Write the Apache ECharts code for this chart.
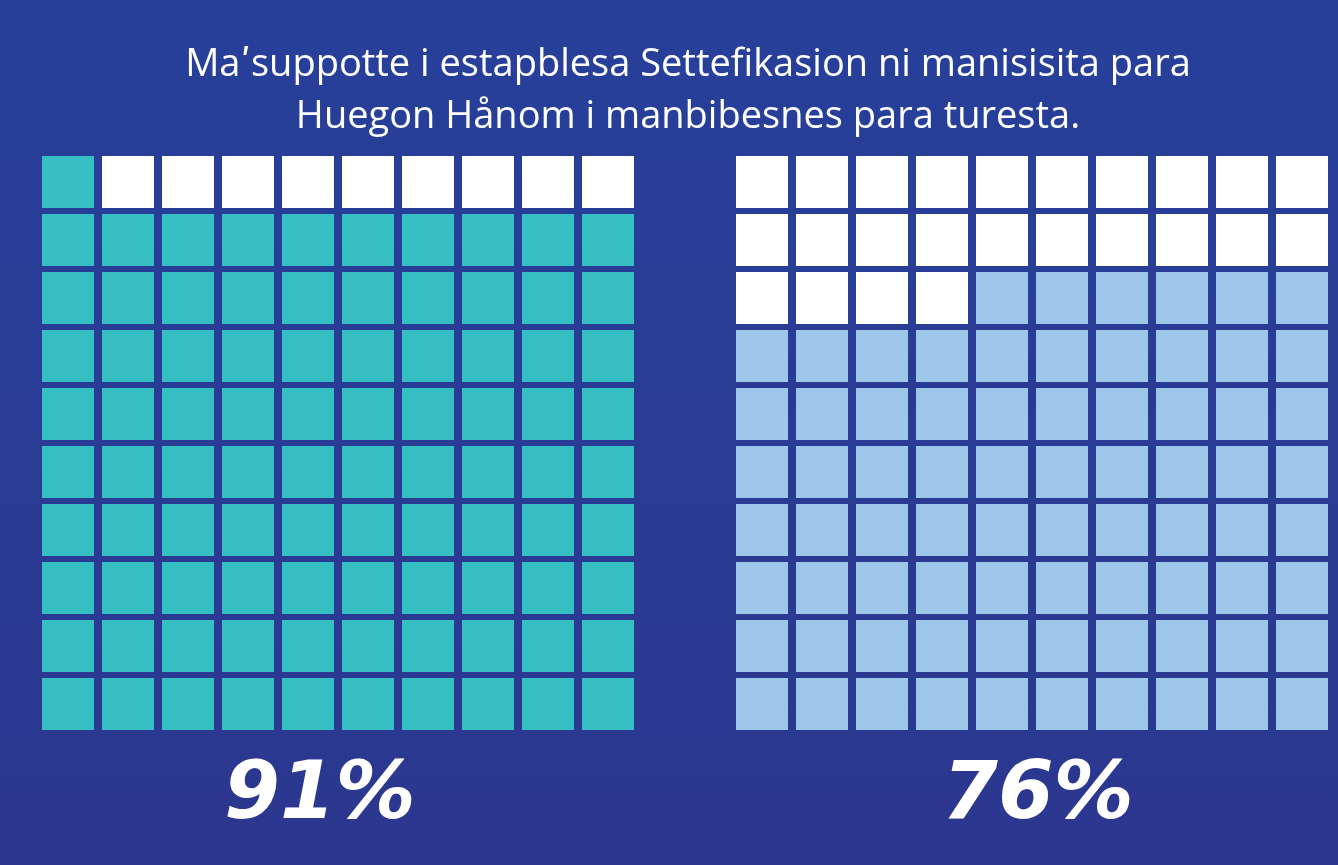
<!DOCTYPE html>
<html>
<head>
<meta charset="utf-8">
<script src="https://cdn.jsdelivr.net/npm/echarts@6/dist/echarts.min.js"></script>
<style>
  html, body { margin: 0; padding: 0; background: #2b3a91; }
  #main { width: 1338px; height: 865px; }
</style>
</head>
<body>
<div id="main"></div>
<script>
// waffle data
var titleLines = ['Maʹsuppotte i estapblesa Settefikasion ni manisisita para', 'Huegon Hånom i manbibesnes para turesta.'];
var percents = [91, 76];
var emptyStart = [1, 0];   // first empty cell (reading order, top-left) of each waffle
var fillColors = ['#35bfc3', '#9dc6e9'];
var cols = ['1', '2', '3', '4', '5', '6', '7', '8', '9', '10'];
var rows = ['1', '2', '3', '4', '5', '6', '7', '8', '9', '10'];

function cells(k, filled) {
  var out = [];
  var nEmpty = 100 - percents[k];
  for (var i = 0; i < 100; i++) {
    var empty = i >= emptyStart[k] && i < emptyStart[k] + nEmpty;
    if (empty === !filled) out.push([i % 10, Math.floor(i / 10)]);
  }
  return out;
}

var Chart = echarts.init(document.getElementById('main'));

var grids = [
  { left: 38, top: 153, width: 600, height: 580 },
  { left: 732, top: 153, width: 600, height: 580 }
];
var labelX = [315, 1033];

var option = {
  backgroundColor: new echarts.graphic.LinearGradient(0, 0, 0, 1, [
    { offset: 0, color: '#27409a' },
    { offset: 1, color: '#2c378f' }
  ]),
  animation: false,
  title: [{
    text: titleLines.join('\n'),
    left: 683,
    top: 34,
    textAlign: 'center',
    textStyle: {
      color: '#ffffff',
      fontFamily: "'Open Sans', 'DejaVu Sans'",
      fontWeight: 'normal',
      fontSize: 38,
      lineHeight: 52
    }
  }].concat(percents.map(function (p, k) {
    return {
      text: p + '%',
      left: labelX[k],
      top: 752,
      textAlign: 'center',
      textStyle: {
        color: '#ffffff',
        fontFamily: 'DejaVu Sans',
        fontWeight: 'bold',
        fontStyle: 'italic',
        fontSize: 80
      }
    };
  })),
  grid: grids,
  xAxis: grids.map(function (g, k) {
    return { type: 'category', gridIndex: k, data: cols, show: false };
  }),
  yAxis: grids.map(function (g, k) {
    return { type: 'category', gridIndex: k, data: rows, inverse: true, show: false };
  }),
  series: []
};

percents.forEach(function (p, k) {
  option.series.push({
    type: 'scatter',
    xAxisIndex: k,
    yAxisIndex: k,
    symbol: 'rect',
    symbolSize: [52, 52],
    itemStyle: { color: fillColors[k], opacity: 1 },
    data: cells(k, true)
  });
  option.series.push({
    type: 'scatter',
    xAxisIndex: k,
    yAxisIndex: k,
    symbol: 'rect',
    symbolSize: [52, 52],
    itemStyle: { color: '#ffffff', opacity: 1 },
    data: cells(k, false)
  });
});

Chart.setOption(option);
</script>
</body>
</html>
